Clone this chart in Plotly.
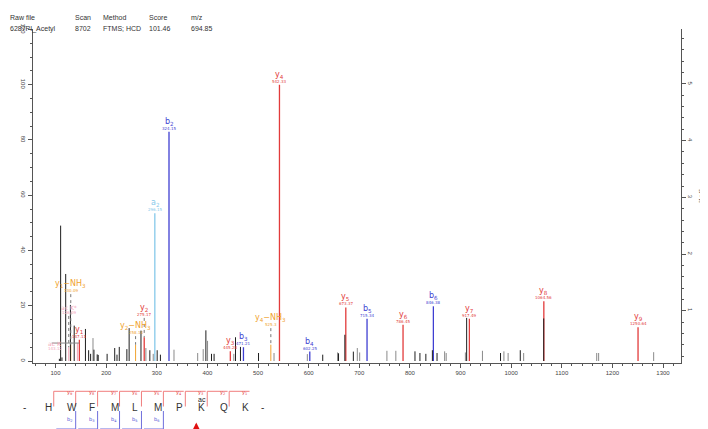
import plotly.graph_objects as go

# ---------------- data ----------------
header_titles = ["Raw file", "Scan", "Method", "Score", "m/z"]
header_values = ["6287PI_Acetyl", "8702", "FTMS; HCD", "101.46", "694.85"]

# unassigned peaks (relative intensity %)
black_mz = [107.6, 110.07, 112.7, 120.08, 129.4, 136.9, 159.09, 165.4, 169.3, 175.9,
            182.3, 184.3, 201.9, 216.9, 221.4, 225.9, 240.9, 245.4, 268.8, 286.3,
            300.8, 307.2, 397.0, 408.1, 413.2, 455.5, 465.3, 501.0, 627.8, 659.0,
            671.5, 688.3, 810.0, 819.8, 831.5, 844.4, 853.6, 912.1, 979.0, 1018.0,
            1064.3]
black_int = [0.8, 49.0, 1.3, 31.5, 20.3, 12.8, 11.6, 3.9, 2.6, 4.1,
             2.4, 2.2, 2.6, 4.7, 2.3, 5.1, 4.3, 11.9, 11.0, 3.9,
             3.9, 2.3, 11.1, 2.6, 2.6, 8.6, 5.1, 2.9, 2.3, 2.8,
             9.5, 3.4, 3.5, 2.9, 2.6, 3.9, 2.9, 15.6, 2.9, 3.9,
             15.4]
gray_mz = [174.0, 278.5, 293.0, 334.0, 380.8, 391.7, 400.3, 452.2, 531.6, 597.4,
           657.1, 696.1, 700.8, 754.6, 772.2, 868.6, 871.7, 909.6, 943.3, 985.7,
           994.0, 1024.7, 1169.0, 1172.8, 1281.5]
gray_int = [8.3, 4.7, 2.6, 4.1, 2.9, 4.3, 7.3, 2.6, 2.9, 2.5,
            3.1, 4.7, 3.1, 3.7, 3.7, 3.5, 2.9, 3.1, 3.7, 3.5,
            2.9, 2.9, 2.9, 2.9, 3.2]

y_num = [1, 2, 3, 4, 5, 6, 7, 8, 9]
y_mz = [147.11, 275.17, 445.28, 542.33, 673.37, 786.45, 917.49, 1064.56, 1250.64]
y_int = [7.7, 8.6, 3.5, 100.0, 19.4, 13.1, 15.3, 21.6, 12.2]

b_num = [2, 3, 4, 5, 6]
b_mz = [324.15, 471.21, 602.25, 715.34, 846.38]
b_int = [83.0, 5.0, 3.4, 15.3, 19.8]

a_num = [2]
a_mz = [296.15]
a_int = [53.5]

nh3_num = [1, 2, 4]
nh3_mz = [130.09, 258.14, 525.30]
nh3_int = [5.9, 5.9, 5.9]

imm_names = ["acK*", "acK"]
imm_mz = [126.09, 143.12]
imm_int = [5.0, 6.5]

sequence = ["H", "W", "F", "M", "L", "M", "P", "K", "Q", "K"]
mod_index = 7
mod_label = "ac"
y_brackets = [9, 8, 7, 6, 5, 4, 3, 2, 1]
b_brackets = [2, 3, 4, 5, 6]

x_ticks = [100, 200, 300, 400, 500, 600, 700, 800, 900, 1000, 1100, 1200, 1300]

# ---------------- layout constants ----------------
W, H = 708, 429
L, R, T, B = 25, 27, 21, 74
PW, PH = W - L - R, H - T - B
XR = [55.5, 1335.5]
YR = [-0.72, 120.16]
Y2R = [0.077, 5.97]

RED = "#e23b3b"
BLUE = "#3f3fd2"
LBLUE = "#86c8ea"
ORANGE = "#f0a330"
PINK = "#f3a5b8"
FONT = "DejaVu Sans"
ARIAL = "Liberation Sans"

px_per_mz = PW / (XR[1] - XR[0])


def pxp(px):
    return (px - L) / PW


def pyp(py):
    return (T + PH - py) / PH


def sticks(xs, ys):
    xx, yy = [], []
    for x, y in zip(xs, ys):
        xx += [x, x, None]
        yy += [0, y, None]
    return xx, yy


fig = go.Figure()


def add_sticks(xs, ys, color, width=1.0):
    xx, yy = sticks(xs, ys)
    fig.add_trace(go.Scatter(x=xx, y=yy, mode="lines", line=dict(color=color, width=width),
                             hoverinfo="skip", showlegend=False))


add_sticks(gray_mz, gray_int, "#8a8a8a")
add_sticks(imm_mz, imm_int, PINK)
add_sticks(nh3_mz, nh3_int, ORANGE)
add_sticks(a_mz, a_int, LBLUE, 1.3)
add_sticks(b_mz, b_int, BLUE, 1.3)
add_sticks(y_mz, y_int, RED, 1.3)
add_sticks(black_mz, black_int, "#1e1e1e")

# secondary axis carrier
fig.add_trace(go.Scatter(x=[None], y=[None], yaxis="y2", showlegend=False, hoverinfo="skip"))

annotations = []
shapes = []


def fmt(v):
    s = f"{v:.2f}"
    if s.endswith("0"):
        s = s[:-1]
    return s


def peak_label(name, mz, inten, color, label_y=None, xshift=0, name_size=8):
    ly = inten if label_y is None else label_y
    annotations.append(dict(x=mz, y=ly, xref="x", yref="y", text=fmt(mz), showarrow=False,
                            yanchor="bottom", borderpad=0, xshift=xshift,
                            font=dict(family=FONT, size=4, color=color)))
    annotations.append(dict(x=mz, y=ly, xref="x", yref="y", text=name, showarrow=False,
                            yanchor="bottom", borderpad=0, yshift=4, xshift=xshift,
                            font=dict(family=FONT, size=name_size, color=color)))
    if label_y is not None and label_y > inten:
        shapes.append(dict(type="line", xref="x", yref="y", x0=mz, x1=mz, y0=label_y, y1=inten,
                           line=dict(color="#777", width=1, dash="dot")))


for n, m, i in zip(y_num, y_mz, y_int):
    peak_label(f"y<sub>{n}</sub>", m, i, RED, label_y={2: 15.6}.get(n))
for n, m, i in zip(b_num, b_mz, b_int):
    peak_label(f"b<sub>{n}</sub>", m, i, BLUE)
for n, m, i in zip(a_num, a_mz, a_int):
    peak_label(f"a<sub>{n}</sub>", m, i, LBLUE)
raised_nh3 = {1: 24.2, 2: 9.0, 4: 11.9}
for n, m, i in zip(nh3_num, nh3_mz, nh3_int):
    peak_label(f"y<sub>{n}</sub>−NH<sub>3</sub>", m, i, ORANGE, label_y=raised_nh3.get(n))
# immonium ions
peak_label("ac K*", imm_mz[0], imm_int[0], PINK, label_y=16.3, name_size=6)
peak_label("ac K", imm_mz[1], imm_int[1], PINK, label_y=3.2, xshift=-22, name_size=6)
shapes.append(dict(type="line", xref="x", yref="y",
                   x0=imm_mz[1] - 26 / px_per_mz, x1=imm_mz[1] + 2 / px_per_mz,
                   y0=imm_int[1], y1=imm_int[1], line=dict(color="#888", width=1)))

# header
hx = [1, 66, 95, 141, 184]
for t, v, x in zip(header_titles, header_values, hx):
    annotations.append(dict(x=pxp(x), y=pyp(5), xref="paper", yref="paper", text=t,
                            showarrow=False, xanchor="left", borderpad=0,
                            font=dict(family=ARIAL, size=7, color="#333")))
    annotations.append(dict(x=pxp(x), y=pyp(16), xref="paper", yref="paper", text=v,
                            showarrow=False, xanchor="left", borderpad=0,
                            font=dict(family=ARIAL, size=7, color="#333")))

# peptide sequence panel
seq_x0, seq_step, seq_y = 12.7, 22.2, 406.7
items = ["-"] + sequence + ["-"]
for i, aa in enumerate(items):
    annotations.append(dict(x=pxp(seq_x0 + i * seq_step), y=pyp(seq_y), xref="paper", yref="paper",
                            text=aa, showarrow=False, font=dict(family=ARIAL, size=10, color="#333")))
kx = seq_x0 + (mod_index + 1) * seq_step
annotations.append(dict(x=pxp(kx), y=pyp(396.5), xref="paper", yref="paper", text=mod_label,
                        showarrow=False, font=dict(family=ARIAL, size=7, color="#222")))
half = seq_step / 2
BRED = "#f07e7e"
BBLUE = "#6f6fdc"
for k, n in enumerate(y_brackets):
    xi = seq_x0 + (k + 2) * seq_step
    xl = xi - half
    shapes.append(dict(type="line", xref="paper", yref="paper", x0=pxp(xl), x1=pxp(xl),
                       y0=pyp(383.3), y1=pyp(398.5), line=dict(color=BRED, width=1)))
    shapes.append(dict(type="line", xref="paper", yref="paper", x0=pxp(xl), x1=pxp(xi + 9.5),
                       y0=pyp(383.3), y1=pyp(383.3), line=dict(color=BRED, width=1)))
    annotations.append(dict(x=pxp(xi), y=pyp(390), xref="paper", yref="paper",
                            text=f"y<sub>{n}</sub>", showarrow=False,
                            font=dict(family=FONT, size=5, color=RED)))
for n in b_brackets:
    xi = seq_x0 + n * seq_step
    xr = xi + half
    shapes.append(dict(type="line", xref="paper", yref="paper", x0=pxp(xr), x1=pxp(xr),
                       y0=pyp(421), y1=pyp(403), line=dict(color=BBLUE, width=1)))
    shapes.append(dict(type="line", xref="paper", yref="paper", x0=pxp(xi - 8.5), x1=pxp(xr),
                       y0=pyp(421), y1=pyp(421), line=dict(color=BBLUE, width=1)))
    annotations.append(dict(x=pxp(xi), y=pyp(416.5), xref="paper", yref="paper",
                            text=f"b<sub>{n}</sub>", showarrow=False,
                            font=dict(family=FONT, size=5, color=BLUE)))
# modification arrow
annotations.append(dict(x=pxp(kx), y=pyp(414.5), xref="paper", yref="paper", text="",
                        showarrow=True, ax=0, ay=14, arrowhead=2, arrowsize=0.9,
                        arrowwidth=1.5, arrowcolor="#e01010"))

fig.update_layout(
    width=W, height=H,
    margin=dict(l=L, r=R, t=T, b=B, pad=0),
    paper_bgcolor="white", plot_bgcolor="white",
    showlegend=False,
    annotations=annotations, shapes=shapes,
    xaxis=dict(range=XR, showline=True, linecolor="#555", linewidth=1, showgrid=False,
               zeroline=False, ticks="outside", ticklen=4, tickcolor="#555",
               tickvals=x_ticks, tickfont=dict(family=ARIAL, size=6, color="#444"),
               minor=dict(dtick=20, tick0=0, ticks="outside", ticklen=2, tickcolor="#555")),
    yaxis=dict(range=YR, showline=True, linecolor="#555", linewidth=1, showgrid=False,
               zeroline=False, ticks="outside", ticklen=4, tickcolor="#555",
               dtick=20, tick0=0, tickangle=90, tickfont=dict(family=ARIAL, size=6, color="#444"),
               minor=dict(dtick=5, tick0=0, ticks="outside", ticklen=2, tickcolor="#555")),
    yaxis2=dict(range=Y2R, overlaying="y", side="right", anchor="x", showline=True,
                linecolor="#555", linewidth=1, showgrid=False, zeroline=False,
                ticks="outside", ticklen=4, tickcolor="#555", dtick=1, tick0=0,
                tickangle=90, tickfont=dict(family=ARIAL, size=6, color="#444"),
                title=dict(text="[1e4]", font=dict(family=ARIAL, size=6, color="#444"), standoff=6),
                minor=dict(dtick=0.2, tick0=0, ticks="outside", ticklen=2, tickcolor="#555")),
)

fig.write_html("out.html")
